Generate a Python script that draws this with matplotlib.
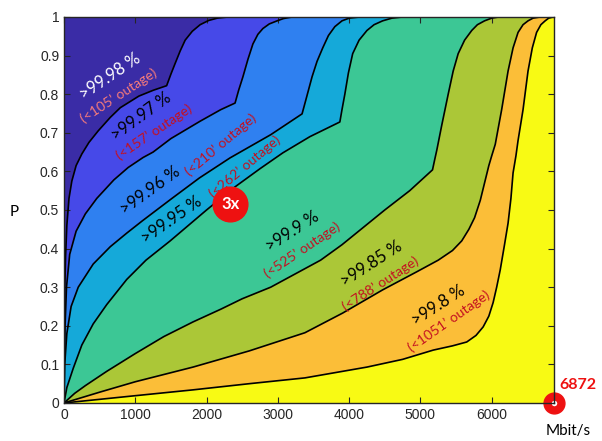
import matplotlib.pyplot as plt

# boundary curves, x in Mbit/s, y = P
b1_x = [0, 2, 6, 12, 22, 40, 70, 110, 170, 250, 350, 480, 650, 790, 1050, 1250, 1440,
        1500, 1560, 1630, 1700, 1800, 1910, 2030, 2150, 2300]
b1_y = [0, 0.1, 0.2, 0.3, 0.38, 0.46, 0.53, 0.575, 0.615, 0.645, 0.675, 0.705, 0.74, 0.765, 0.795, 0.81, 0.822,
        0.852, 0.88, 0.912, 0.94, 0.963, 0.98, 0.991, 0.997, 1.0]

b2_x = [0, 5, 15, 35, 80, 170, 300, 460, 700, 900, 1110, 1250, 1500, 1910, 2200, 2400,
        2450, 2510, 2580, 2650, 2720, 2790, 2880, 2990, 3080, 3200]
b2_y = [0, 0.1, 0.2, 0.3, 0.385, 0.445, 0.49, 0.53, 0.578, 0.61, 0.636, 0.65, 0.685, 0.73, 0.76, 0.777,
        0.81, 0.845, 0.89, 0.93, 0.955, 0.97, 0.982, 0.99, 0.996, 1.0]

b3_x = [0, 10, 40, 100, 200, 410, 650, 880, 1100, 1500, 1900, 2330, 2900, 3340,
        3400, 3480, 3550, 3630, 3710, 3800, 3900, 4000, 4150]
b3_y = [0, 0.1, 0.18, 0.25, 0.3, 0.36, 0.405, 0.44, 0.472, 0.528, 0.583, 0.635, 0.695, 0.749,
        0.79, 0.845, 0.885, 0.92, 0.952, 0.975, 0.99, 0.997, 1.0]

b4_x = [0, 40, 130, 250, 410, 600, 880, 1150, 1490, 2000, 2400, 2750, 3070, 3450, 3870,
        3900, 3940, 3990, 4050, 4140, 4250, 4350, 4470, 4600, 4750]
b4_y = [0, 0.04, 0.09, 0.15, 0.205, 0.255, 0.32, 0.37, 0.42, 0.50, 0.56, 0.607, 0.648, 0.69, 0.728,
        0.76, 0.80, 0.855, 0.905, 0.94, 0.965, 0.98, 0.99, 0.997, 1.0]

b5_x = [0, 150, 300, 600, 1000, 1400, 1810, 2200, 2500, 2900, 3200, 3600, 3900, 4200, 4500, 4850, 5170,
        5200, 5230, 5300, 5390, 5460, 5530, 5620, 5720, 5800, 5900, 6000, 6100]
b5_y = [0, 0.025, 0.045, 0.082, 0.128, 0.172, 0.21, 0.243, 0.27, 0.30, 0.33, 0.37, 0.41, 0.455, 0.50, 0.55, 0.604,
        0.63, 0.655, 0.72, 0.80, 0.86, 0.905, 0.94, 0.965, 0.98, 0.99, 0.997, 1.0]

b6_x = [0, 500, 1000, 1810, 2600, 3380, 3910, 4470, 4950, 5250, 5450, 5580, 5680, 5760, 5840, 5900, 5960,
        6000, 6050, 6140, 6230, 6300, 6370, 6440, 6510, 6580, 6680]
b6_y = [0, 0.028, 0.055, 0.093, 0.135, 0.182, 0.233, 0.293, 0.34, 0.37, 0.395, 0.42, 0.45, 0.48, 0.525, 0.57, 0.615,
        0.64, 0.67, 0.76, 0.86, 0.92, 0.96, 0.98, 0.99, 0.997, 1.0]

b7_x = [0, 900, 1810, 2600, 3380, 4250, 4750, 5180, 5450, 5650, 5780, 5880, 5960, 6020, 6070, 6120, 6180,
        6230, 6270, 6300, 6340, 6370, 6440, 6510, 6570, 6630, 6690, 6750, 6800, 6860]
b7_y = [0, 0.017, 0.034, 0.05, 0.065, 0.093, 0.113, 0.137, 0.148, 0.158, 0.175, 0.197, 0.225, 0.26, 0.30, 0.345, 0.41,
        0.466, 0.53, 0.596, 0.64, 0.68, 0.76, 0.86, 0.92, 0.96, 0.98, 0.99, 0.997, 1.0]

bx = [b1_x, b2_x, b3_x, b4_x, b5_x, b6_x, b7_x]
by = [b1_y, b2_y, b3_y, b4_y, b5_y, b6_y, b7_y]

colors = ['#3a2ca6', '#4649e8', '#2f80f0', '#15a9d9', '#3cc795', '#abc737', '#fbbe38', '#f8fa14']

avail = ['>99.98 %', '>99.97 %', '>99.96 %', '>99.95 %', '>99.9 %', '>99.85 %', '>99.8 %']
outage = ["(<105\u2019 outage)", "(<157\u2019 outage)", "(<210\u2019 outage)", "(<262\u2019 outage)",
          "(<525\u2019 outage)", "(<788\u2019 outage)", "(<1051\u2019 outage)"]
avail_pos = [(650, 0.845, 34), (1090, 0.742, 36), (1210, 0.55, 36), (1510, 0.475, 35),
             (3200, 0.445, 33), (4320, 0.36, 33), (5250, 0.252, 33)]
outage_pos = [(770, 0.797, 33), (1270, 0.703, 34), (2200, 0.668, 40), (2540, 0.612, 40),
              (3340, 0.396, 34), (4440, 0.31, 33), (5400, 0.213, 35)]
avail_col = ['white', 'black', 'black', 'black', 'black', 'black', 'black']
outage_col = ['#f77b7b', '#c41020', '#c41020', '#c41020', '#c41020', '#c41020', '#c41020']

x_max = 6872

fig = plt.figure(figsize=(6.02, 4.41), dpi=100)
ax = fig.add_axes([0.1063, 0.0862, 0.8137, 0.8753])
ax.set_facecolor(colors[7])

# fill from the right-most boundary to the left-most
for i in range(6, -1, -1):
    ax.fill(bx[i] + [0], by[i] + [1], color=colors[i], lw=0, zorder=1)
for i in range(7):
    ax.plot(bx[i], by[i], color='black', lw=1.2, zorder=2, solid_joinstyle='round')

for i in range(7):
    x, y, r = avail_pos[i]
    ax.text(x, y, avail[i], color=avail_col[i], fontsize=12, family='Lato', rotation=r,
            ha='center', va='center', rotation_mode='anchor', zorder=3)
    x, y, r = outage_pos[i]
    ax.text(x, y, outage[i], color=outage_col[i], fontsize=10, family='Lato', rotation=r,
            ha='center', va='center', rotation_mode='anchor', zorder=3)

# markers
ax.plot([2330], [0.515], 'o', ms=25, color='#ee1111', zorder=4)
ax.text(2330, 0.515, '3x', color='white', fontsize=12, fontweight='bold', family='Lato',
        ha='center', va='center', zorder=5)
ax.plot([x_max], [0], 'o', ms=15, color='#ee1111', zorder=4, clip_on=False)
ax.plot([x_max], [0], 'o', ms=5, color='white', mec='#ee1111', mew=1, zorder=5, clip_on=False)
ax.annotate('6872', (x_max, 0), xytext=(4, 13), textcoords='offset points', color='#ee1111',
            fontsize=11.5, fontweight='bold', family='Lato', ha='left', va='center',
            annotation_clip=False)

ax.set_xlim(0, x_max)
ax.set_ylim(0, 1)
ax.set_xticks(range(0, 7000, 1000))
ax.set_yticks([i / 10 for i in range(11)])
ax.set_yticklabels(['0', '0.1', '0.2', '0.3', '0.4', '0.5', '0.6', '0.7', '0.8', '0.9', '1'])
ax.tick_params(direction='in', top=True, right=True, labelsize=10, colors='#262626',
               length=4, width=0.8)
for lab in ax.get_xticklabels() + ax.get_yticklabels():
    lab.set_family('Liberation Sans')
for s in ax.spines.values():
    s.set_color('#262626')
    s.set_linewidth(1)
    s.set_zorder(6)

fig.text(10 / 602, 1 - 212 / 441, 'P', fontsize=11, family='Lato', ha='left', va='center')
fig.text(568 / 602, 1 - 431 / 441, 'Mbit/s', fontsize=11, family='Lato', ha='center', va='center')

fig.savefig('out.png', dpi=100)
